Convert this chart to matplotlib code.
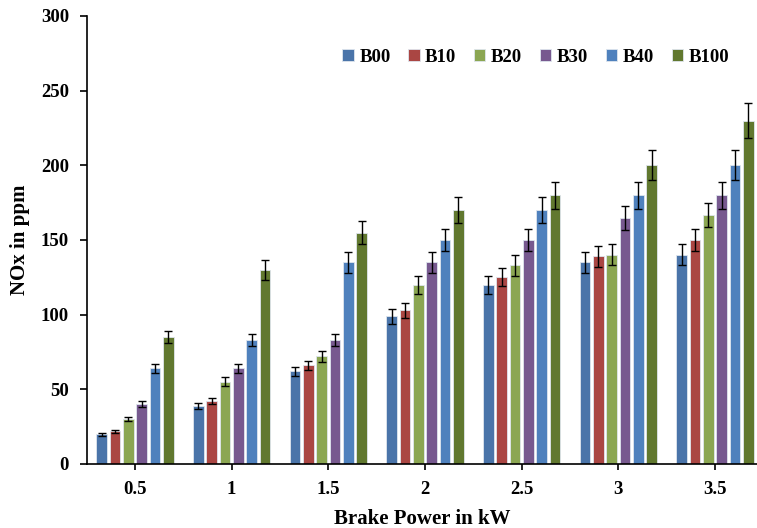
import numpy as np
import matplotlib.pyplot as plt

# данные
power = ['0.5', '1', '1.5', '2', '2.5', '3', '3.5']
blends = ['B00', 'B10', 'B20', 'B30', 'B40', 'B100']

b00 = [20, 39, 62, 99, 120, 135, 140]
b10 = [22, 42, 66, 103, 125, 139, 150]
b20 = [30, 55, 72, 120, 133, 140, 167]
b30 = [40, 64, 83, 135, 150, 165, 180]
b40 = [64, 83, 135, 150, 170, 180, 200]
b100 = [85, 130, 155, 170, 180, 200, 230]

# погрешности
err_b00 = [1, 2, 3, 5, 6, 7, 7]
err_b10 = [1, 2, 3, 5, 6, 7, 7.5]
err_b20 = [1.5, 3, 4, 6, 7, 7, 8]
err_b30 = [2, 3, 4, 7, 7.5, 8, 9]
err_b40 = [3, 4, 7, 7.5, 8.5, 9, 10]
err_b100 = [4, 6.5, 8, 8.5, 9, 10, 11.5]

values = [b00, b10, b20, b30, b40, b100]
errors = [err_b00, err_b10, err_b20, err_b30, err_b40, err_b100]
colors = ['#4A74A9', '#AA4643', '#8BA652', '#77598F', '#4F81BD', '#61782F']

plt.rcParams['font.family'] = 'Liberation Serif'
plt.rcParams['font.weight'] = 'bold'

fig = plt.figure(figsize=(7.57, 5.28), dpi=100)
ax = fig.add_axes([87 / 757, 64 / 528, 670 / 757, 448 / 528])

x = np.arange(len(power))
pitch = 0.1376
width = 0.11
for i in range(len(blends)):
    pos = x + (i - 2.5) * pitch
    ax.bar(pos, values[i], width, color=colors[i], edgecolor='#dfe6ee',
           linewidth=0.6, label=blends[i], zorder=2)
    ax.errorbar(pos, values[i], yerr=errors[i], fmt='none', ecolor='black',
                elinewidth=1.0, capsize=3, capthick=1.0, zorder=3)

ax.set_xlim(-0.496, 6.434)
ax.set_ylim(0, 300)
ax.set_yticks(range(0, 301, 50))
ax.set_xticks(x)
ax.set_xticklabels(power)

ax.spines['top'].set_visible(False)
ax.spines['right'].set_visible(False)
ax.spines['left'].set_linewidth(1.2)
ax.spines['bottom'].set_linewidth(1.2)
ax.tick_params(axis='y', direction='out', length=5, width=1.2, labelsize=13.5, pad=8)
ax.tick_params(axis='x', direction='out', length=4, width=1.2, labelsize=13.5, pad=8)
for lbl in ax.get_xticklabels() + ax.get_yticklabels():
    lbl.set_fontweight('bold')

ax.set_ylabel('NOx in ppm', fontsize=15, fontweight='bold', labelpad=8)
ax.set_xlabel('Brake Power in kW', fontsize=15, fontweight='bold', labelpad=8)

ax.legend(loc='center', bbox_to_anchor=(0.67, 0.908), ncol=6, frameon=False,
          handlelength=0.6, handleheight=0.6, handletextpad=0.3,
          columnspacing=0.95, prop={'size': 13.5, 'weight': 'bold'})

fig.savefig('out.png', dpi=100)
